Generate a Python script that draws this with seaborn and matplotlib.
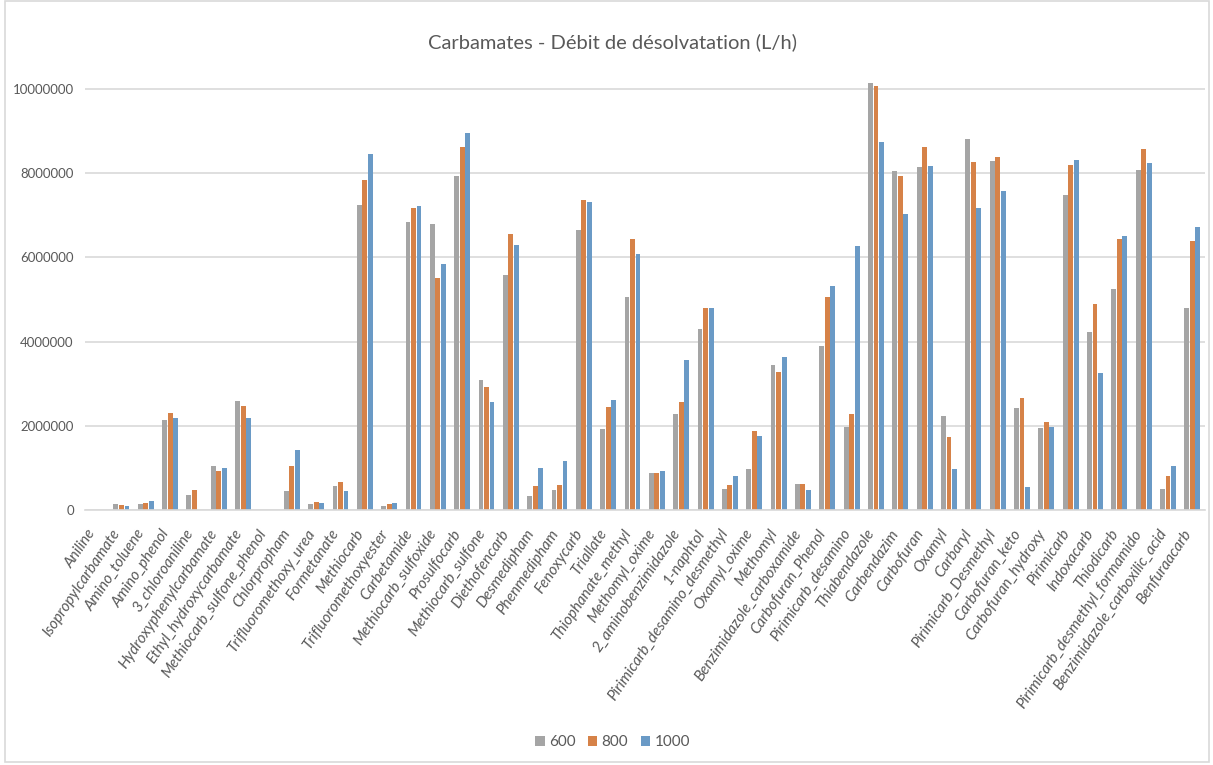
import pandas as pd
import matplotlib.pyplot as plt
import seaborn as sns
from matplotlib.ticker import FuncFormatter
from matplotlib.transforms import ScaledTranslation

# ==========================
# DATA
# ==========================

compounds = [
    "Aniline", "Isopropylcarbamate", "Amino_toluene", "Amino_phenol",
    "3_chloroaniline", "Hydroxyphenylcarbamate", "Ethyl_hydroxycarbamate",
    "Methiocarb_sulfone_phenol", "Chlorpropham", "Trifluoromethoxy_urea",
    "Formetanate", "Methiocarb", "Trifluoromethoxyester", "Carbetamide",
    "Methiocarb_sulfoxide", "Prosulfocarb", "Methiocarb_sulfone",
    "Diethofencarb", "Desmedipham", "Phenmedipham", "Fenoxycarb", "Triallate",
    "Thiophanate_methyl", "Methomyl_oxime", "2_aminobenzimidazole",
    "1-naphtol", "Pirimicarb_desamino_desmethyl", "Oxamyl_oxime", "Methomyl",
    "Benzimidazole_carboxamide", "Carbofuran_Phenol", "Pirimicarb_desamino",
    "Thiabendazole", "Carbendazim", "Carbofuran", "Oxamyl", "Carbaryl",
    "Pirimicarb_Desmethyl", "Carbofuran_keto", "Carbofuran_hydroxy",
    "Pirimicarb", "Indoxacarb", "Thiodicarb",
    "Pirimicarb_desmethyl_formamido", "Benzimidazole_carboxilic_acid",
    "Benfuraacarb",
]

debit_600 = [
    0, 160000, 160000, 2140000, 357000, 1060000, 2590000, 0, 450000, 160000,
    570000, 7240000, 110000, 6850000, 6780000, 7920000, 3090000, 5590000,
    340000, 490000, 6660000, 1920000, 5060000, 880000, 2280000, 4290000,
    500000, 975000, 3440000, 634000, 3900000, 1970000, 10130000, 8060000,
    8150000, 2230000, 8800000, 8280000, 2420000, 1950000, 7490000, 4220000,
    5250000, 8080000, 500000, 4800000,
]

debit_800 = [
    0, 135000, 180000, 2310000, 475000, 930000, 2480000, 0, 1040000, 200000,
    675000, 7830000, 150000, 7180000, 5510000, 8620000, 2930000, 6550000,
    570000, 610000, 7350000, 2460000, 6430000, 880000, 2580000, 4810000,
    610000, 1880000, 3270000, 634000, 5060000, 2280000, 10060000, 7940000,
    8620000, 1740000, 8260000, 8390000, 2660000, 2100000, 8190000, 4900000,
    6430000, 8560000, 808000, 6390000,
]

debit_1000 = [
    0, 110000, 220000, 2190000, 0, 1010000, 2190000, 0, 1430000, 180000,
    450000, 8450000, 180000, 7230000, 5850000, 8940000, 2580000, 6300000,
    1000000, 1180000, 7310000, 2610000, 6090000, 930000, 3570000, 4790000,
    816000, 1760000, 3640000, 475000, 5330000, 6280000, 8730000, 7040000,
    8170000, 967000, 7160000, 7580000, 547000, 1980000, 8300000, 3250000,
    6500000, 8230000, 1060000, 6730000,
]

series = ["600", "800", "1000"]
colors = ["#A5A5A5", "#ED7D31", "#5B9BD5"]

# ==========================
# LONG FORMAT TABLE
# ==========================

n = len(compounds)
df = pd.DataFrame({
    "compound": compounds * 3,
    "debit": debit_600 + debit_800 + debit_1000,
    "serie": [series[0]] * n + [series[1]] * n + [series[2]] * n,
})

# ==========================
# PLOT
# ==========================

sns.set_style("white")
plt.rcParams["font.family"] = ["Lato", "DejaVu Sans"]

text_color = "#595959"
grid_color = "#D9D9D9"

fig = plt.figure(figsize=(12.13, 7.65), dpi=100)
ax = fig.add_axes([0.070, 0.333, 0.923, 0.573])

sns.barplot(
    data=df,
    x="compound",
    y="debit",
    hue="serie",
    hue_order=series,
    palette=colors,
    width=0.68,
    gap=0.12,
    linewidth=0,
    ax=ax,
)

ax.set_xlim(-0.5, n - 0.5)
ax.set_ylim(0, 10400000)
ax.set_yticks(range(0, 10000001, 2000000))
ax.yaxis.set_major_formatter(FuncFormatter(lambda v, p: f"{int(v)}"))

ax.yaxis.grid(True, color=grid_color, linewidth=1.2)
ax.set_axisbelow(True)
for side in ["top", "right", "left"]:
    ax.spines[side].set_visible(False)
ax.spines["bottom"].set_color(grid_color)
ax.spines["bottom"].set_linewidth(1.2)

ax.tick_params(axis="both", length=0, colors=text_color)
ax.tick_params(axis="y", labelsize=9.5, pad=8)
ax.tick_params(axis="x", pad=12)

# shift the slanted labels a bit to the left, as in the original
shift = ScaledTranslation(-0.10, 0, fig.dpi_scale_trans)
for lab in ax.get_xticklabels():
    lab.set_rotation(56)
    lab.set_ha("right")
    lab.set_va("top")
    lab.set_rotation_mode("anchor")
    lab.set_fontstyle("italic")
    lab.set_fontsize(11)
    lab.set_color(text_color)
    lab.set_transform(lab.get_transform() + shift)

ax.set_xlabel("")
ax.set_ylabel("")

handles, labels = ax.get_legend_handles_labels()
ax.get_legend().remove()
fig.legend(
    handles, labels,
    loc="center",
    bbox_to_anchor=(0.505, 0.030),
    ncol=3,
    frameon=False,
    fontsize=11,
    labelcolor=text_color,
    handlelength=0.6,
    handleheight=0.6,
    handletextpad=0.3,
    columnspacing=0.8,
)

fig.text(
    0.505, 0.945,
    "Carbamates - Débit de désolvatation (L/h)",
    ha="center", va="center",
    fontsize=14.5, color=text_color,
)

fig.add_artist(plt.Rectangle(
    (0.004, 0.004), 0.993, 0.995,
    transform=fig.transFigure,
    fill=False, edgecolor=grid_color, linewidth=1.2,
))

plt.savefig("out.png", dpi=100)
